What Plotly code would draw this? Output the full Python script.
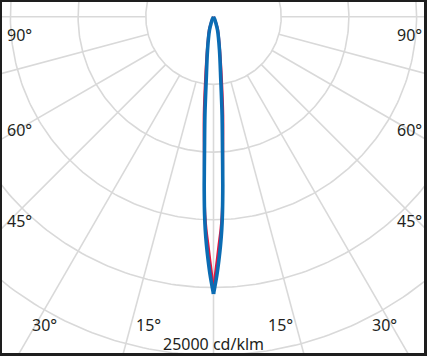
import numpy as np
import plotly.graph_objects as go

# Luminous intensity distribution (cd/klm), symmetric planes
angles_c0 = [0, 0.75, 1.27, 1.76, 2.20, 2.57, 2.87, 3.16, 3.86, 5.0, 6.58, 10.2, 16.7, 20, 25, 30]
intens_c0 = [20480, 19080, 17975, 16870, 15770, 14660, 13555, 12450, 9870, 7290, 4705, 2500, 1030, 500, 150, 0]

angles_c90 = [0, 0.33, 0.80, 1.30, 1.90, 2.40, 2.78, 3.13, 4.08, 5.58, 7.47, 11.0, 18.7, 22, 26, 32]
intens_c90 = [20040, 19080, 17975, 16870, 15770, 14660, 13555, 12450, 9870, 7300, 4715, 2505, 1035, 600, 250, 0]

ring_values = [5000, 10000, 15000, 20000, 25000, 30000]
spoke_angles = list(range(0, 360, 15))
scale_label = "25000 cd/klm"

W, H = 427, 356
ML, MR, MT, MB = 2, 3, 2, 3
PX = 5000 / 67.7          # cd/klm per pixel
CX, CY = 213.5, 16.7      # pixel position of the light-source centre

x_range = [(ML - CX) * PX, (W - MR - CX) * PX]
y_range = [-(H - MB - CY) * PX, (CY - MT) * PX]


def half_xy(angles, intens, sign):
    a = np.radians(np.array(angles, dtype=float)) * sign
    i = np.array(intens, dtype=float)
    return i * np.sin(a), -i * np.cos(a)


# polar grid
gx, gy = [], []
t = np.radians(np.arange(0, 361, 1))
for r in ring_values:
    gx += list(r * np.sin(t)) + [None]
    gy += list(-r * np.cos(t)) + [None]
for ang in spoke_angles:
    a = np.radians(ang)
    gx += [ring_values[0] * np.sin(a), 40000 * np.sin(a), None]
    gy += [-ring_values[0] * np.cos(a), -40000 * np.cos(a), None]

fig = go.Figure()
fig.add_trace(go.Scatter(x=gx, y=gy, mode="lines", line=dict(color="#d9d9d9", width=1.6),
                         hoverinfo="skip", showlegend=False))

for angles, intens, color, width in [(angles_c90, intens_c90, "#e3153f", 2.4),
                                     (angles_c0, intens_c0, "#0b6cb3", 3.6)]:
    for sign in (-1, 1):
        x, y = half_xy(angles, intens, sign)
        fig.add_trace(go.Scatter(x=x, y=y, mode="lines",
                                 line=dict(color=color, width=width, shape="spline", smoothing=0.8),
                                 hoverinfo="skip", showlegend=False))

font = dict(family="Noto Sans, Open Sans, sans-serif", size=16, color="#231f20")


def pxa(px, py):
    return (px - ML) / (W - ML - MR), 1 - (py - MT) / (H - MT - MB)


labels = [("90°", 19, 35), ("90°", 409, 35), ("60°", 19, 130), ("60°", 409, 130),
          ("45°", 19, 221), ("45°", 409, 221), ("30°", 44, 325), ("30°", 384.5, 325),
          ("15°", 148, 325), ("15°", 280.5, 325), (scale_label, 213.5, 344)]
for txt, px, py in labels:
    xp, yp = pxa(px, py)
    fig.add_annotation(text=txt, x=xp, y=yp, xref="paper", yref="paper", showarrow=False,
                       xanchor="center", yanchor="middle", font=font)

fig.update_layout(
    width=W, height=H,
    margin=dict(l=ML, r=MR, t=MT, b=MB, pad=0),
    paper_bgcolor="#1e1e1e", plot_bgcolor="white",
    xaxis=dict(range=x_range, visible=False, fixedrange=True),
    yaxis=dict(range=y_range, visible=False, fixedrange=True),
    showlegend=False,
)

fig.write_html("out.html", config={"displayModeBar": False},
               post_script="document.body.style.margin='0';document.body.style.overflow='hidden';")
